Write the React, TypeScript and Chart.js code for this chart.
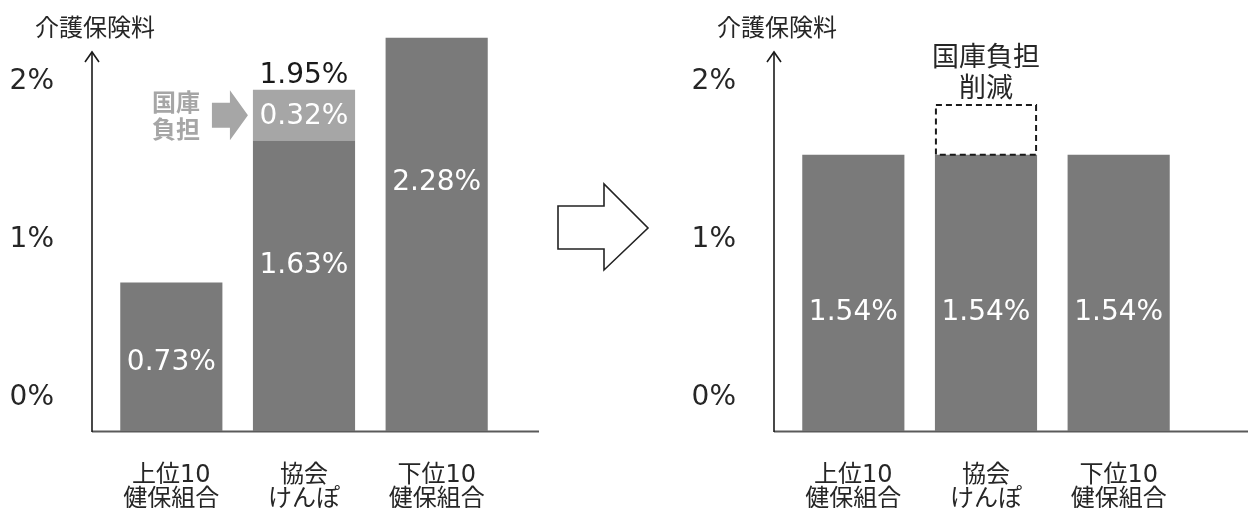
import React, { useEffect, useRef } from "react";
import { Chart, registerables } from "chart.js";

Chart.register(...registerables);

// ---- data ----
const CATEGORIES = [
  ["上位10", "健保組合"],
  ["協会", "けんぽ"],
  ["下位10", "健保組合"],
];
const BEFORE_PREMIUM = [0.73, 1.63, 2.28];
const BEFORE_SUBSIDY: (number | null)[] = [null, 0.32, null];
const AFTER_PREMIUM = [1.54, 1.54, 1.54];
const AFTER_CUT: (number | null)[] = [null, 0.32, null];
const Y_TICKS = [0, 1, 2];
const Y_TITLE = "介護保険料";
const SUBSIDY_LABEL = ["国庫", "負担"];
const CUT_LABEL = ["国庫負担", "削減"];

// ---- style ----
const Y_MIN = -0.209;
const Y_MAX = 2.392;
const DARK = "#7a7a7a";
const LIGHT = "#a6a6a6";
const INK = "#262626";
const FONT = "'DejaVu Sans', 'Noto Sans CJK JP', sans-serif";
const CJK = "'Noto Sans CJK JP', sans-serif";
const BEFORE_LABEL_OFFSETS = [80, 125, 145];
const AFTER_LABEL_OFFSETS = [158, 158, 158];

const pct = (v: number) => v.toFixed(2) + "%";

function axesPlugin(baselineEnd: number) {
  return {
    id: "axes",
    beforeDatasetsDraw(chart: any) {
      const { ctx, chartArea } = chart;
      const ax = chartArea.left - 13;
      const bottom = chartArea.bottom;
      ctx.save();
      // baseline
      ctx.strokeStyle = "#5a5a5a";
      ctx.lineWidth = 2;
      ctx.beginPath();
      ctx.moveTo(ax, bottom + 0.5);
      ctx.lineTo(baselineEnd, bottom + 0.5);
      ctx.stroke();
      // y axis with arrow
      ctx.strokeStyle = "#1a1a1a";
      ctx.lineWidth = 1.6;
      ctx.beginPath();
      ctx.moveTo(ax, bottom + 1);
      ctx.lineTo(ax, 52);
      ctx.stroke();
      ctx.beginPath();
      ctx.moveTo(ax - 7, 62);
      ctx.lineTo(ax, 52);
      ctx.lineTo(ax + 7, 62);
      ctx.stroke();
      // title
      ctx.fillStyle = INK;
      ctx.font = `24px ${CJK}`;
      ctx.textAlign = "center";
      ctx.textBaseline = "middle";
      ctx.fillText(Y_TITLE, ax + 3, 27);
      ctx.restore();
    },
  };
}

function valueLabelsPlugin(values: number[], offsets: number[]) {
  return {
    id: "valueLabels",
    afterDatasetsDraw(chart: any) {
      const { ctx } = chart;
      const meta = chart.getDatasetMeta(0);
      ctx.save();
      ctx.fillStyle = "#ffffff";
      ctx.font = `28px ${FONT}`;
      ctx.textAlign = "center";
      ctx.textBaseline = "middle";
      meta.data.forEach((el: any, i: number) => {
        ctx.fillText(pct(values[i]), el.x, el.y + offsets[i]);
      });
      ctx.restore();
    },
  };
}

const subsidyPlugin = {
  id: "subsidy",
  afterDatasetsDraw(chart: any) {
    const { ctx } = chart;
    const idx = BEFORE_SUBSIDY.findIndex((v) => v != null);
    const el: any = chart.getDatasetMeta(1).data[idx];
    const v = BEFORE_SUBSIDY[idx] as number;
    const total = BEFORE_PREMIUM[idx] + v;
    const mid = (el.y + el.base) / 2;
    const left = el.x - el.width / 2;
    ctx.save();
    ctx.textAlign = "center";
    ctx.textBaseline = "middle";
    // segment value
    ctx.fillStyle = "#ffffff";
    ctx.font = `28px ${FONT}`;
    ctx.fillText(pct(v), el.x, mid + 2);
    // total above
    ctx.fillStyle = "#1a1a1a";
    ctx.fillText(pct(total), el.x, el.y - 14);
    // gray arrow
    const tip = left - 5;
    ctx.fillStyle = LIGHT;
    ctx.beginPath();
    ctx.moveTo(tip - 36, mid - 12.5);
    ctx.lineTo(tip - 18, mid - 12.5);
    ctx.lineTo(tip - 18, mid - 25);
    ctx.lineTo(tip, mid);
    ctx.lineTo(tip - 18, mid + 25);
    ctx.lineTo(tip - 18, mid + 12.5);
    ctx.lineTo(tip - 36, mid + 12.5);
    ctx.closePath();
    ctx.fill();
    // label
    ctx.font = `bold 24px ${CJK}`;
    ctx.fillText(SUBSIDY_LABEL[0], left - 77, mid - 13);
    ctx.fillText(SUBSIDY_LABEL[1], left - 77, mid + 14);
    ctx.restore();
  },
};

const cutPlugin = {
  id: "cut",
  afterDatasetsDraw(chart: any) {
    const { ctx } = chart;
    const idx = AFTER_CUT.findIndex((v) => v != null);
    const el: any = chart.getDatasetMeta(1).data[idx];
    const l = el.x - el.width / 2;
    const r = el.x + el.width / 2;
    ctx.save();
    ctx.strokeStyle = "#1a1a1a";
    ctx.lineWidth = 2;
    ctx.setLineDash([6, 4]);
    ctx.beginPath();
    ctx.rect(l + 1, el.y + 1, r - l - 2, el.base - el.y - 1);
    ctx.stroke();
    ctx.setLineDash([]);
    ctx.fillStyle = INK;
    ctx.font = `27px ${CJK}`;
    ctx.textAlign = "center";
    ctx.textBaseline = "middle";
    ctx.fillText(CUT_LABEL[0], el.x, el.y - 48);
    ctx.fillText(CUT_LABEL[1], el.x, el.y - 17);
    ctx.restore();
  },
};

function baseOptions(rightPad: number) {
  return {
    responsive: false,
    animation: false as const,
    devicePixelRatio: 1,
    layout: { padding: { left: 0, right: rightPad, top: 20, bottom: 0 } },
    plugins: { legend: { display: false }, tooltip: { enabled: false }, title: { display: false } },
    scales: {
      x: {
        stacked: true,
        grid: { display: false },
        border: { display: false },
        ticks: { color: INK, font: { family: FONT, size: 24, lineHeight: 1 }, padding: 25, maxRotation: 0, autoSkip: false },
        afterFit: (s: any) => {
          s.height = 77;
          s.paddingLeft = 0;
          s.paddingRight = 0;
        },
      },
      y: {
        stacked: true,
        min: Y_MIN,
        max: Y_MAX,
        grid: { display: false },
        border: { display: false },
        afterBuildTicks: (s: any) => {
          s.ticks = Y_TICKS.map((v) => ({ value: v }));
        },
        ticks: { color: INK, font: { family: FONT, size: 28 }, padding: 43, callback: (v: any) => `${v}%` },
        afterFit: (s: any) => {
          s.width = 105;
          s.paddingTop = 0;
          s.paddingBottom = 0;
        },
      },
    },
  };
}

function beforeConfig(): any {
  return {
    type: "bar",
    data: {
      labels: CATEGORIES,
      datasets: [
        { data: BEFORE_PREMIUM, backgroundColor: DARK, base: Y_MIN, categoryPercentage: 1, barPercentage: 0.77 },
        { data: BEFORE_SUBSIDY, backgroundColor: LIGHT, categoryPercentage: 1, barPercentage: 0.77 },
      ],
    },
    options: baseOptions(57),
    plugins: [axesPlugin(539), valueLabelsPlugin(BEFORE_PREMIUM, BEFORE_LABEL_OFFSETS), subsidyPlugin],
  };
}

function afterConfig(): any {
  return {
    type: "bar",
    data: {
      labels: CATEGORIES,
      datasets: [
        { data: AFTER_PREMIUM, backgroundColor: DARK, base: Y_MIN, categoryPercentage: 1, barPercentage: 0.77 },
        { data: AFTER_CUT, backgroundColor: "rgba(0,0,0,0)", categoryPercentage: 1, barPercentage: 0.77 },
      ],
    },
    options: baseOptions(63),
    plugins: [axesPlugin(566), valueLabelsPlugin(AFTER_PREMIUM, AFTER_LABEL_OFFSETS), cutPlugin],
  };
}

export default function App() {
  const leftRef = useRef<HTMLCanvasElement>(null);
  const rightRef = useRef<HTMLCanvasElement>(null);
  useEffect(() => {
    const a = new Chart(leftRef.current as HTMLCanvasElement, beforeConfig());
    const b = new Chart(rightRef.current as HTMLCanvasElement, afterConfig());
    return () => {
      a.destroy();
      b.destroy();
    };
  }, []);
  return (
    <div style={{ position: "fixed", left: 0, top: 0, width: 1248, height: 508, background: "#ffffff", overflow: "hidden" }}>
      <canvas ref={leftRef} width={560} height={508} style={{ position: "absolute", left: 0, top: 0 }} />
      <svg width={1248} height={508} style={{ position: "absolute", left: 0, top: 0, pointerEvents: "none" }}>
        <polygon
          points="558,206 604,206 604,184 648,228 604,270 604,249 558,249"
          fill="#ffffff"
          stroke="#222222"
          strokeWidth={1.6}
          strokeLinejoin="miter"
        />
      </svg>
      <canvas ref={rightRef} width={566} height={508} style={{ position: "absolute", left: 682, top: 0 }} />
    </div>
  );
}
